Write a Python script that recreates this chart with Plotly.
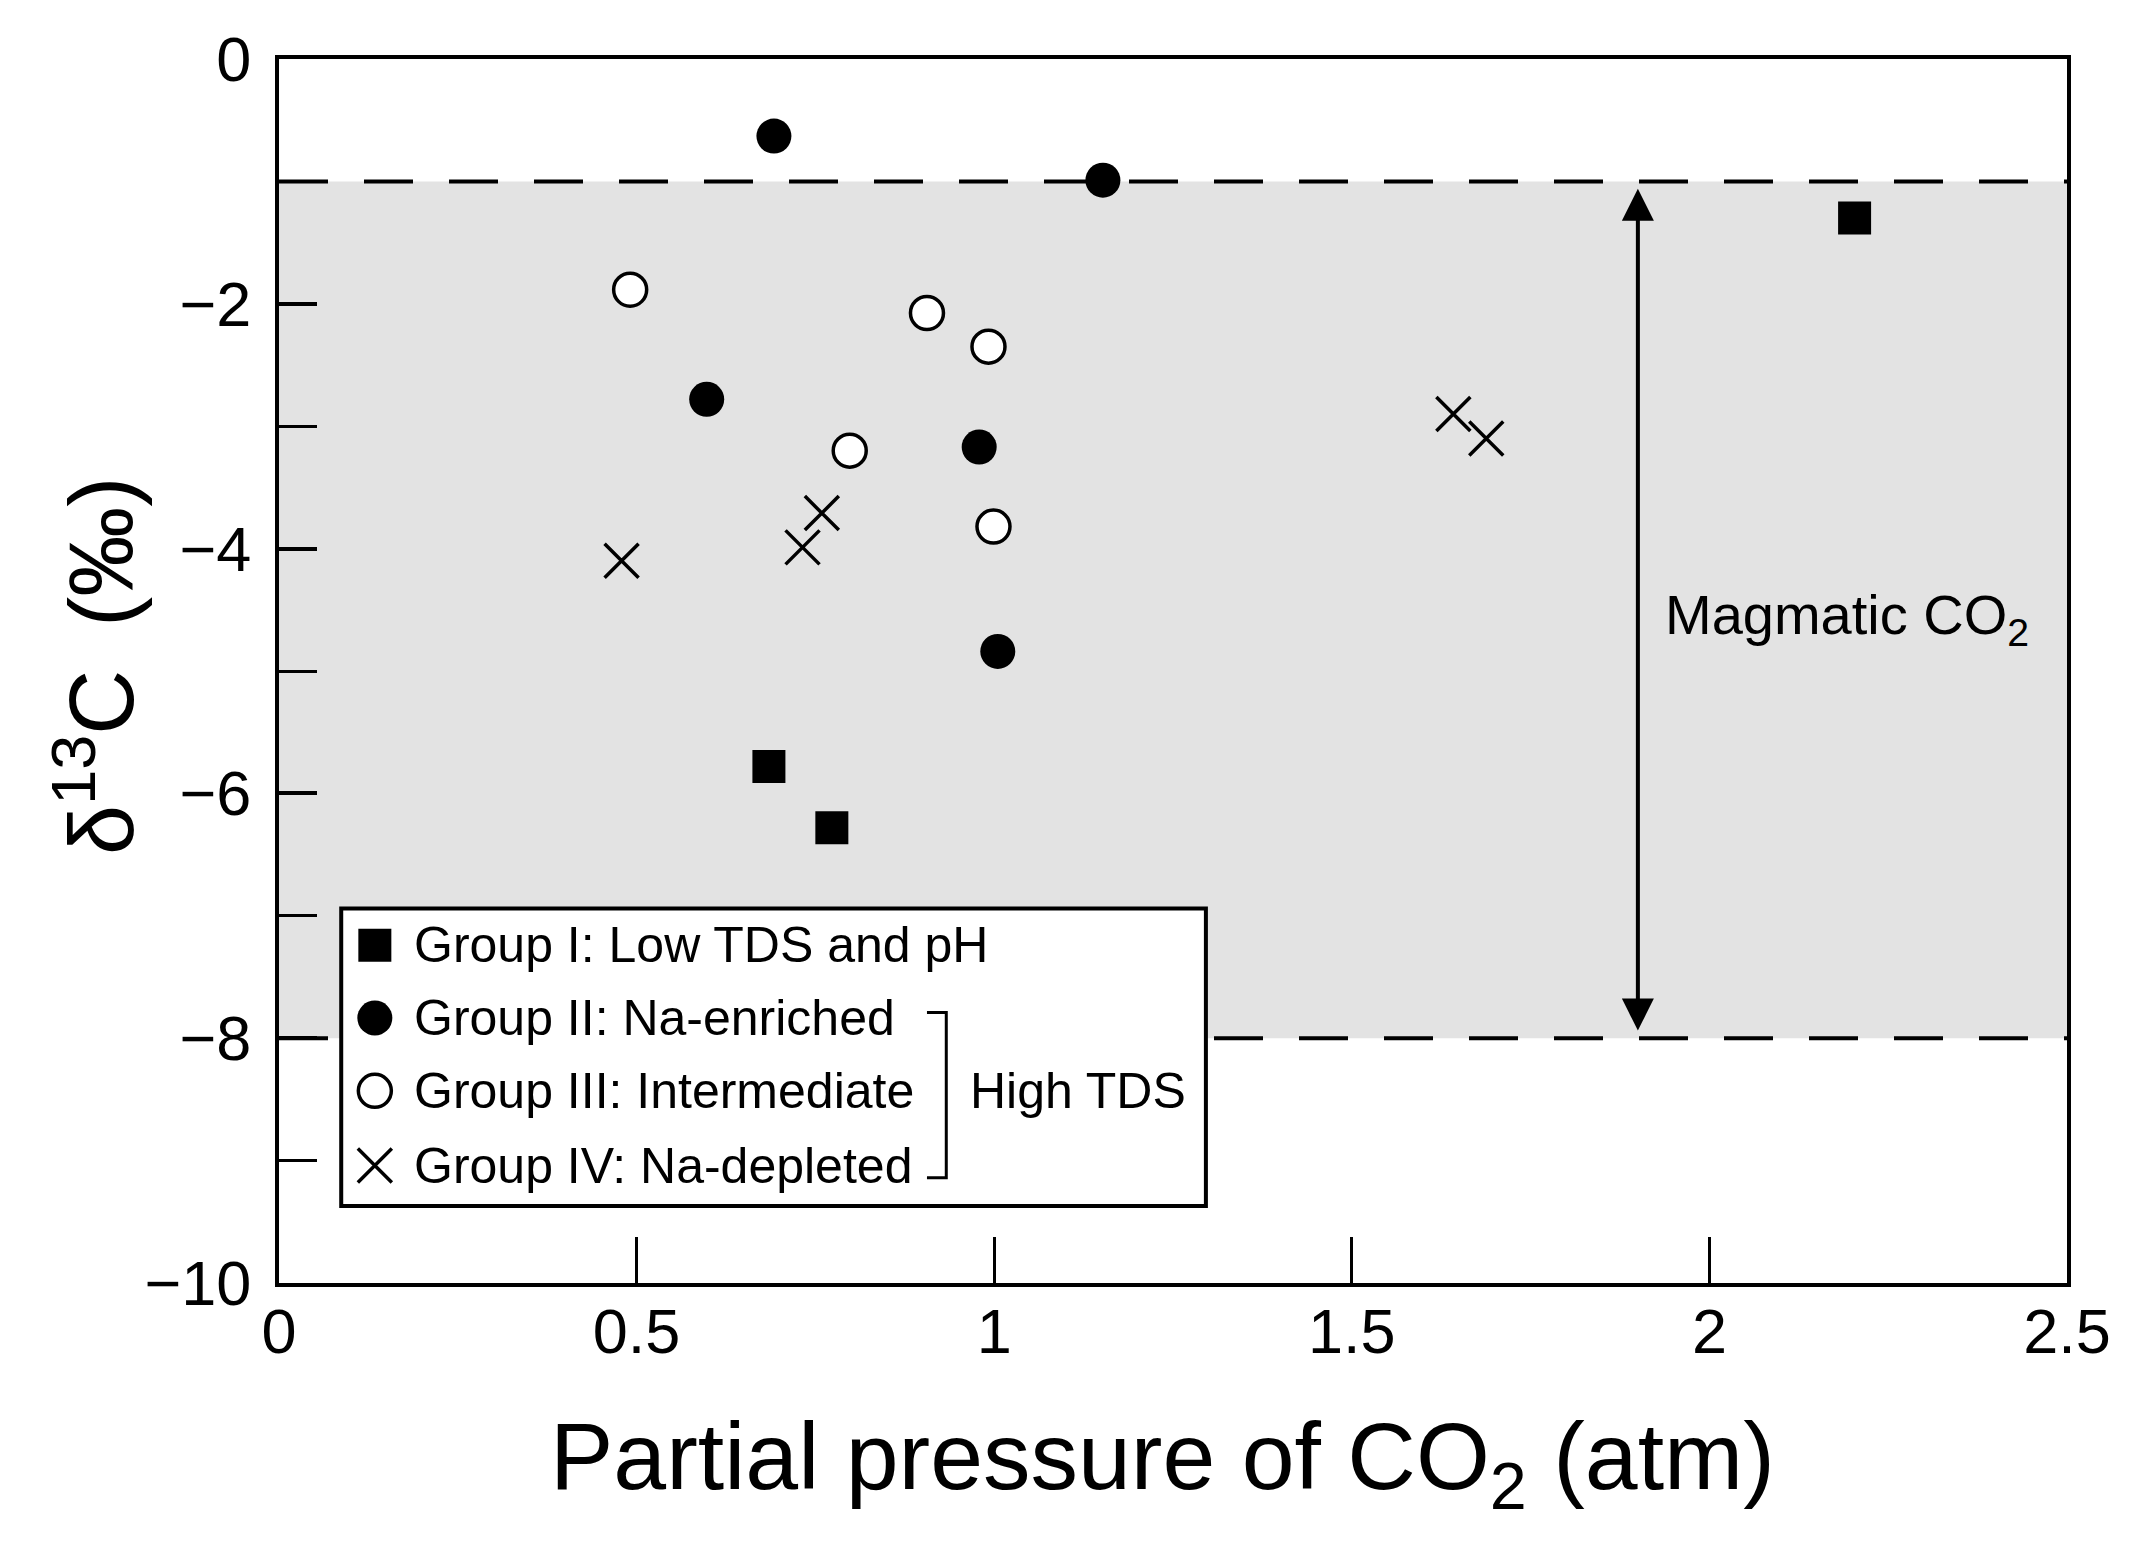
import plotly.graph_objects as go

# group data: partial pressure of CO2 (atm) vs d13C (permil)
group1_x = [0.685, 0.773, 2.203]
group1_y = [-5.78, -6.28, -1.30]
group2_x = [0.692, 1.152, 0.598, 0.979, 1.005]
group2_y = [-0.63, -0.99, -2.78, -3.17, -4.84]
group3_x = [0.491, 0.906, 0.992, 0.798, 0.999]
group3_y = [-1.885, -2.075, -2.35, -3.20, -3.82]
group4_x = [0.479, 0.732, 0.759, 1.642, 1.688]
group4_y = [-4.10, -3.99, -3.71, -2.90, -3.10]

group_labels = [
    "Group I: Low TDS and pH",
    "Group II: Na-enriched",
    "Group III: Intermediate",
    "Group IV: Na-depleted",
]

# magmatic CO2 band (d13C limits)
magmatic_band = [-8, -1]

FONT = "Liberation Sans, Arial, sans-serif"

markers = [
    dict(symbol="square", size=33, color="black", line=dict(width=0)),
    dict(symbol="circle", size=35, color="black", line=dict(width=0)),
    dict(symbol="circle", size=33, color="white", line=dict(width=3.5, color="black")),
    dict(symbol="x-thin", size=34, color="black", line=dict(width=3.5, color="black")),
]

fig = go.Figure()

series = [(group1_x, group1_y), (group2_x, group2_y), (group3_x, group3_y), (group4_x, group4_y)]
for (xs, ys), label, mk in zip(series, group_labels, markers):
    fig.add_trace(go.Scatter(x=xs, y=ys, mode="markers", name=label,
                             marker=mk, showlegend=False, cliponaxis=False))

# hand-drawn legend box (plotly caps legend symbol size, so build it here)
leg_sym_x = 0.134
leg_txt_x = 0.186
leg_rows = [-7.24, -7.835, -8.43, -9.04]
for label, mk, ry in zip(group_labels, markers, leg_rows):
    fig.add_trace(go.Scatter(x=[leg_sym_x], y=[ry], mode="markers", marker=mk,
                             showlegend=False, hoverinfo="skip"))
    fig.add_annotation(x=leg_txt_x, y=ry, text=label, showarrow=False,
                       xanchor="left", yanchor="middle",
                       font=dict(family=FONT, size=50, color="black"))

fig.add_annotation(x=0.963, y=-8.43, text="High TDS", showarrow=False,
                   xanchor="left", yanchor="middle",
                   font=dict(family=FONT, size=50, color="black"))

shapes = [
    # grey band for magmatic CO2
    dict(type="rect", x0=0, x1=2.5, y0=magmatic_band[0], y1=magmatic_band[1],
         fillcolor="#e3e3e3", line=dict(width=0), layer="below"),
    dict(type="line", x0=0, x1=2.5, y0=magmatic_band[1], y1=magmatic_band[1],
         line=dict(color="black", width=4, dash="49px,36px"), layer="below"),
    dict(type="line", x0=0, x1=2.5, y0=magmatic_band[0], y1=magmatic_band[0],
         line=dict(color="black", width=4, dash="49px,36px"), layer="below"),
    # legend frame
    dict(type="rect", x0=0.087, x1=1.296, y0=-9.37, y1=-6.94,
         fillcolor="white", line=dict(color="black", width=4), layer="below"),
    # bracket for High TDS
    dict(type="path", path="M 0.906,-7.79 L 0.933,-7.79 L 0.933,-9.14 L 0.906,-9.14",
         line=dict(color="black", width=3), layer="below"),
]

# double arrow spanning the magmatic range
fig.add_annotation(x=1.9, y=-1.06, ax=1.9, ay=-7.95, xref="x", yref="y",
                   axref="x", ayref="y", text="", showarrow=True,
                   arrowhead=2, startarrowhead=2, arrowside="end+start",
                   arrowsize=1.6, startarrowsize=1.6, arrowwidth=4,
                   arrowcolor="black")

fig.add_annotation(x=1.935, y=-4.57, text="Magmatic CO<sub>2</sub>", showarrow=False,
                   xanchor="left", yanchor="middle",
                   font=dict(family=FONT, size=56, color="black"))

# axis titles
fig.add_annotation(xref="paper", yref="paper", x=0.494, y=-0.147,
                   text="Partial pressure of CO<sub>2</sub> (atm)", showarrow=False,
                   xanchor="center", yanchor="middle",
                   font=dict(family=FONT, size=95, color="black"))
fig.add_annotation(xref="paper", yref="paper", x=-0.103, y=0.504,
                   text="\u03b4<sup>13</sup>C\u2009 (\u2030)", showarrow=False, textangle=-90,
                   xanchor="center", yanchor="middle",
                   font=dict(family=FONT, size=90, color="black"))

fig.update_layout(
    width=2148, height=1564,
    margin=dict(l=271, r=89, t=51, b=289),
    paper_bgcolor="white", plot_bgcolor="white",
    font=dict(family=FONT, size=63, color="black"),
    shapes=shapes,
    showlegend=False,
)

fig.update_xaxes(range=[0, 2.5], tickmode="linear", tick0=0, dtick=0.5,
                 ticks="inside", ticklen=46, tickwidth=3, tickcolor="black",
                 showline=True, linewidth=4, linecolor="black", mirror=True,
                 showgrid=False, zeroline=False, ticklabelstandoff=-10,
                 tickfont=dict(family=FONT, size=63, color="black"))
fig.update_yaxes(range=[-10, 0], tickmode="linear", tick0=0, dtick=2,
                 ticks="inside", ticklen=38, tickwidth=4, tickcolor="black",
                 minor=dict(tickmode="linear", tick0=0, dtick=1, ticks="inside",
                            ticklen=38, tickwidth=3, tickcolor="black", showgrid=False),
                 showline=True, linewidth=4, linecolor="black", mirror=True,
                 showgrid=False, zeroline=False, ticklabelstandoff=11,
                 tickfont=dict(family=FONT, size=63, color="black"))

fig.write_html("out.html")
